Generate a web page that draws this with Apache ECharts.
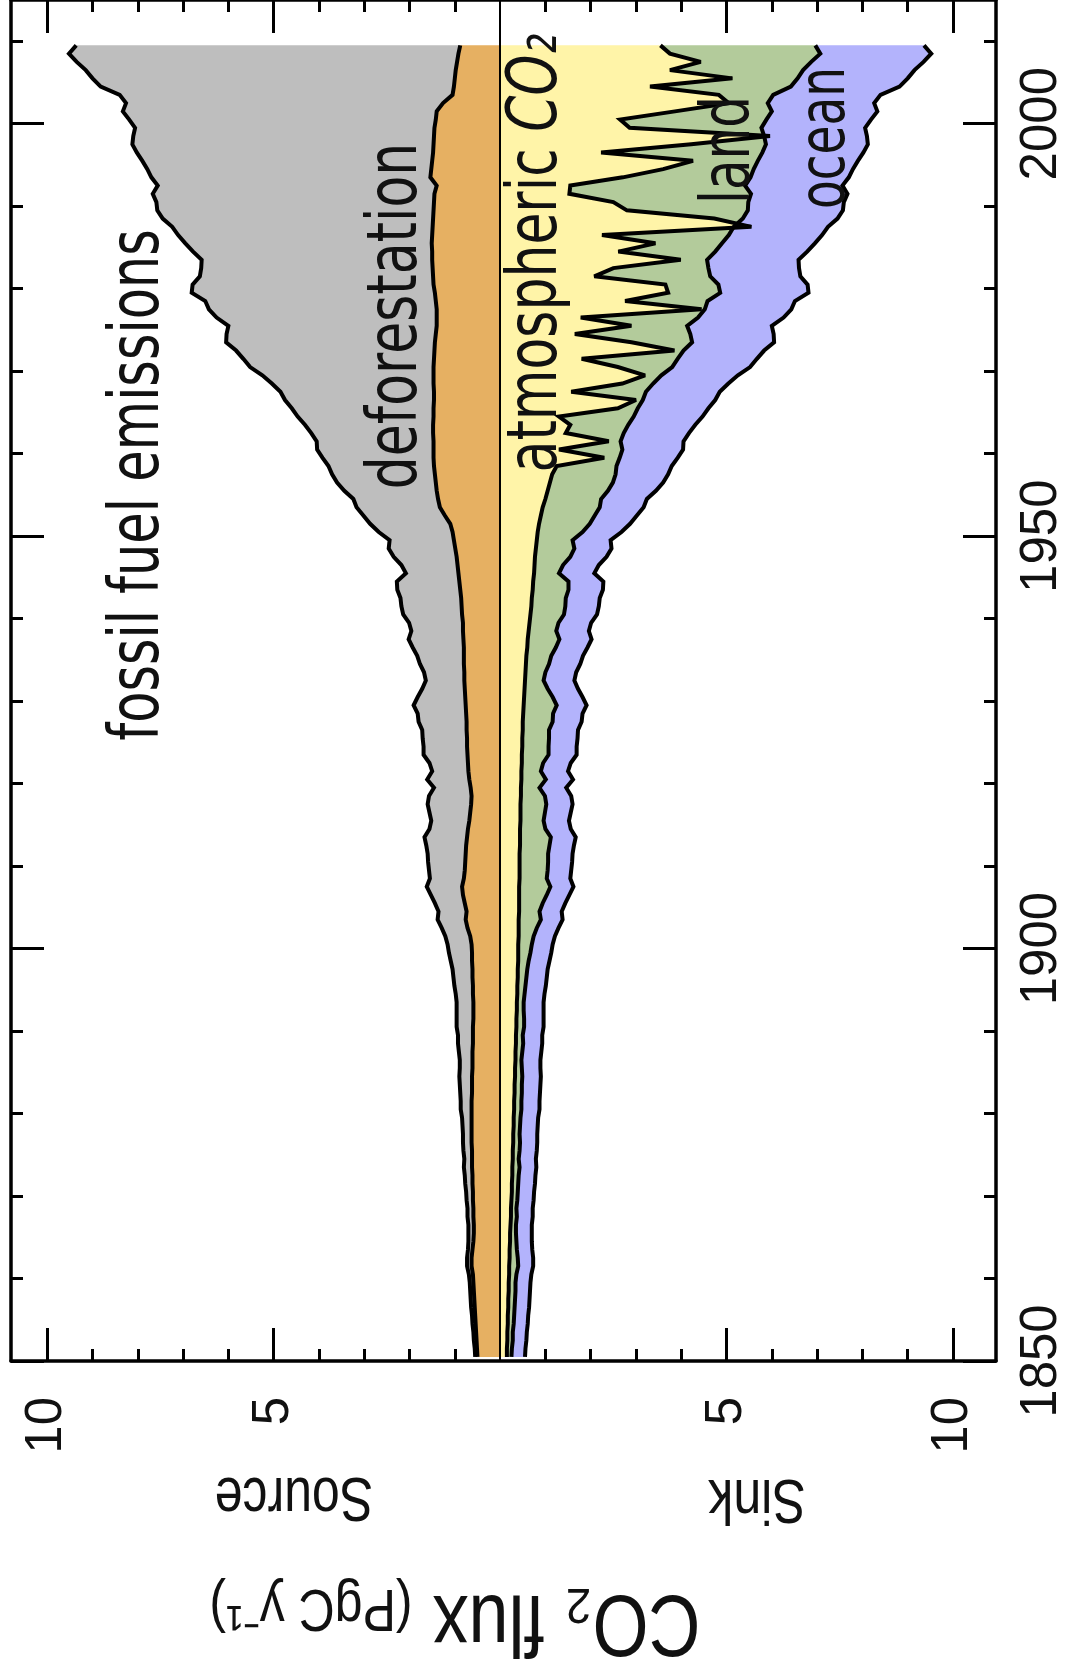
<!DOCTYPE html>
<html>
<head>
<meta charset="utf-8">
<script src="https://cdn.jsdelivr.net/npm/echarts@6/dist/echarts.min.js"></script>
<style>
html,body{margin:0;padding:0;background:#ffffff;}
#chart{width:1070px;height:1670px;}
</style>
</head>
<body>
<div id="chart"></div>
<script>
// ---------------- data (PgC per year), one value per year 1850..2009 ----------------
const firstYear = 1850;
const axisEndYear = 2015;

const fossil = [
 0.05,0.05,0.06,0.06,0.07,0.07,0.08,0.08,0.08,0.08,
 0.09,0.10,0.10,0.10,0.11,0.12,0.12,0.13,0.13,0.14,
 0.15,0.16,0.17,0.18,0.17,0.19,0.19,0.19,0.20,0.21,
 0.24,0.24,0.26,0.27,0.28,0.28,0.28,0.30,0.33,0.33,
 0.36,0.37,0.37,0.37,0.38,0.41,0.42,0.44,0.47,0.51,
 0.53,0.55,0.57,0.62,0.62,0.66,0.71,0.78,0.75,0.79,
 0.82,0.84,0.88,0.94,0.85,0.84,0.90,0.96,0.94,0.81,
 0.93,0.80,0.85,0.97,0.96,0.98,0.98,1.06,1.07,1.15,
 1.05,0.94,0.85,0.89,0.97,1.03,1.13,1.21,1.14,1.19,
 1.30,1.33,1.34,1.39,1.38,1.16,1.24,1.39,1.47,1.42,
 1.63,1.77,1.80,1.84,1.87,2.04,2.18,2.27,2.33,2.45,
 2.57,2.58,2.69,2.83,3.00,3.13,3.29,3.39,3.57,3.78,
 4.05,4.21,4.38,4.61,4.62,4.60,4.86,5.03,5.09,5.37,
 5.32,5.15,5.11,5.09,5.28,5.44,5.61,5.75,5.97,6.10,
 6.13,6.22,6.16,6.16,6.27,6.40,6.54,6.65,6.64,6.61,
 6.77,6.93,7.00,7.35,7.80,8.00,8.17,8.40,8.60,8.48
];

const deforestation = [
 0.50,0.51,0.52,0.53,0.54,0.55,0.56,0.57,0.58,0.59,
 0.60,0.63,0.63,0.61,0.59,0.58,0.58,0.59,0.59,0.60,
 0.60,0.61,0.61,0.62,0.62,0.62,0.63,0.63,0.63,0.63,
 0.63,0.63,0.62,0.62,0.62,0.61,0.61,0.61,0.60,0.60,
 0.60,0.59,0.59,0.59,0.60,0.60,0.61,0.61,0.62,0.62,
 0.63,0.66,0.72,0.76,0.74,0.78,0.82,0.84,0.80,0.78,
 0.77,0.76,0.75,0.73,0.71,0.68,0.66,0.64,0.63,0.65,
 0.68,0.70,0.71,0.72,0.73,0.73,0.74,0.74,0.75,0.76,
 0.77,0.78,0.79,0.79,0.80,0.80,0.80,0.81,0.82,0.82,
 0.84,0.85,0.86,0.88,0.90,0.92,0.94,0.96,0.99,1.02,
 1.05,1.10,1.22,1.33,1.37,1.40,1.42,1.44,1.46,1.47,
 1.47,1.47,1.48,1.48,1.47,1.47,1.46,1.46,1.47,1.47,
 1.47,1.46,1.45,1.44,1.42,1.40,1.40,1.40,1.42,1.44,
 1.47,1.48,1.49,1.50,1.50,1.51,1.50,1.49,1.48,1.47,
 1.46,1.45,1.40,1.54,1.52,1.50,1.48,1.47,1.46,1.45,
 1.42,1.40,1.26,1.05,1.02,1.00,0.98,0.95,0.92,0.88
];

const atmosphere = [
 0.15,0.15,0.16,0.16,0.17,0.17,0.18,0.18,0.19,0.19,
 0.20,0.20,0.21,0.21,0.22,0.22,0.23,0.24,0.24,0.25,
 0.26,0.26,0.27,0.27,0.28,0.28,0.29,0.29,0.30,0.30,
 0.31,0.31,0.32,0.32,0.33,0.33,0.34,0.34,0.35,0.35,
 0.36,0.36,0.37,0.37,0.38,0.38,0.39,0.39,0.40,0.40,
 0.40,0.41,0.41,0.41,0.42,0.42,0.42,0.42,0.43,0.43,
 0.43,0.43,0.44,0.44,0.44,0.45,0.45,0.45,0.46,0.46,
 0.47,0.47,0.48,0.48,0.49,0.49,0.50,0.50,0.51,0.52,
 0.53,0.54,0.55,0.56,0.57,0.58,0.60,0.61,0.63,0.65,
 0.67,0.69,0.70,0.72,0.73,0.75,0.76,0.77,0.79,0.81,
 0.83,0.86,0.90,0.94,1.00,1.05,1.10,1.15,1.25,2.30,
 1.30,2.40,1.45,1.55,1.30,2.60,3.00,1.57,2.70,3.20,
 2.60,1.80,3.85,2.90,1.65,2.90,1.78,4.45,2.76,3.71,
 3.65,2.08,2.50,3.99,2.61,3.43,2.25,5.55,4.73,2.80,
 2.50,1.53,1.55,2.71,3.60,4.26,2.23,4.22,5.96,2.86,
 2.65,3.86,5.05,4.83,3.31,5.13,3.75,4.43,3.75,3.54
];

const land = [
 0.10,0.11,0.12,0.12,0.13,0.14,0.14,0.15,0.15,0.15,
 0.16,0.20,0.18,0.16,0.14,0.13,0.12,0.13,0.12,0.13,
 0.13,0.14,0.14,0.16,0.13,0.15,0.15,0.14,0.14,0.15,
 0.16,0.16,0.16,0.16,0.16,0.15,0.13,0.15,0.16,0.15,
 0.17,0.17,0.15,0.15,0.16,0.18,0.19,0.21,0.23,0.27,
 0.30,0.33,0.40,0.49,0.45,0.52,0.61,0.69,0.60,0.62,
 0.63,0.63,0.65,0.68,0.56,0.51,0.54,0.57,0.53,0.41,
 0.54,0.43,0.47,0.59,0.58,0.59,0.58,0.66,0.66,0.73,
 0.63,0.51,0.41,0.44,0.51,0.55,0.63,0.70,0.61,0.64,
 0.74,0.75,0.75,0.79,0.78,0.55,0.63,0.78,0.85,0.79,
 0.99,1.12,1.19,1.26,1.23,1.33,1.39,1.40,1.32,0.34,
 1.40,0.26,1.28,1.28,1.65,0.44,0.15,1.65,0.68,0.36,
 1.20,2.12,0.20,1.34,2.55,1.23,2.59,0.07,1.82,1.15,
 1.17,2.56,2.10,0.58,2.14,1.47,2.80,-0.39,0.63,2.67,
 2.98,4.01,3.86,2.82,2.00,1.43,3.56,1.65,-0.13,2.91,
 3.23,2.14,0.86,1.20,3.11,1.44,2.94,2.44,3.32,3.42
];

const ocean = [
 0.30,0.30,0.30,0.31,0.31,0.31,0.32,0.32,0.32,0.33,
 0.33,0.33,0.34,0.34,0.34,0.35,0.35,0.35,0.36,0.36,
 0.36,0.37,0.37,0.37,0.38,0.38,0.38,0.39,0.39,0.39,
 0.40,0.40,0.40,0.41,0.41,0.41,0.42,0.42,0.42,0.43,
 0.43,0.43,0.44,0.44,0.44,0.45,0.45,0.45,0.46,0.46,
 0.46,0.47,0.48,0.48,0.49,0.50,0.50,0.51,0.52,0.52,
 0.53,0.54,0.54,0.55,0.56,0.56,0.57,0.58,0.58,0.59,
 0.60,0.60,0.61,0.62,0.62,0.63,0.64,0.64,0.65,0.66,
 0.66,0.67,0.68,0.68,0.69,0.70,0.70,0.71,0.72,0.72,
 0.73,0.74,0.75,0.76,0.77,0.78,0.79,0.80,0.82,0.84,
 0.86,0.89,0.93,0.97,1.01,1.06,1.11,1.16,1.22,1.28,
 1.34,1.39,1.44,1.48,1.52,1.56,1.60,1.63,1.66,1.69,
 1.72,1.75,1.78,1.81,1.84,1.87,1.89,1.91,1.93,1.95,
 1.97,1.99,2.00,2.02,2.03,2.05,2.06,2.08,2.09,2.10,
 2.11,2.13,2.15,2.17,2.19,2.21,2.23,2.25,2.27,2.29,
 2.31,2.33,2.35,2.37,2.40,2.43,2.46,2.48,2.45,2.40
];

// tick positions / labels
const majorYears = [1850, 1900, 1950, 2000];
const minorYears = [1860, 1870, 1880, 1890, 1910, 1920, 1930, 1940, 1960, 1970, 1980, 1990, 2010];
const majorFlux = [-10, -5, 5, 10];
const minorFlux = [-9, -8, -7, -6, -4, -3, -2, -1, 1, 2, 3, 4, 6, 7, 8, 9];

// year categories for the (hidden) band axis the series sit on
const years = [];
for (let y = firstYear; y < axisEndYear; y++) years.push(String(y));

const colors = {
  fossil: '#bebebe',
  deforestation: '#e6b062',
  atmosphere: '#fff4a8',
  land: '#b3cb9b',
  ocean: '#b3b3fc'
};

const neg = arr => arr.map(v => -v);

const chart = echarts.init(document.getElementById('chart'), null, {renderer: 'canvas'});

const FRAME = 3.5;
const tickFont = {fontFamily: '"Liberation Sans", Arial, sans-serif', fontSize: 51, color: '#111'};

function xAxisDef(position, ticks, len, withLine, withLabel) {
  return {
    type: 'value', position: position, min: -10.8, max: 10.95,
    axisLine: {show: withLine, onZero: false, lineStyle: {color: '#000', width: FRAME}},
    axisTick: {show: true, inside: true, length: len, customValues: ticks, lineStyle: {color: '#000', width: 3}},
    axisLabel: withLabel ? Object.assign({show: true, customValues: majorFlux, rotate: 90, margin: 36,
      formatter: v => String(Math.abs(v))}, tickFont) : {show: false},
    splitLine: {show: false}
  };
}
function yAxisDef(position, ticks, len, withLine, withLabel) {
  return {
    type: 'value', position: position, min: firstYear, max: axisEndYear,
    axisLine: {show: withLine, onZero: false, lineStyle: {color: '#000', width: FRAME}},
    axisTick: {show: true, inside: true, length: len, customValues: ticks, lineStyle: {color: '#000', width: 3}},
    axisLabel: withLabel ? Object.assign({show: true, customValues: majorYears, rotate: 90, margin: 20,
      formatter: v => String(v)}, tickFont) : {show: false},
    splitLine: {show: false}
  };
}

const fillBase = {type: 'line', symbol: 'none', showSymbol: false, smooth: false, silent: true,
  xAxisIndex: 0, yAxisIndex: 0, lineStyle: {width: 0, opacity: 0}, z: 2};
const lineBase = {type: 'line', symbol: 'none', showSymbol: false, smooth: false, silent: true,
  xAxisIndex: 0, yAxisIndex: 0, lineStyle: {color: '#000', width: 4, join: 'miter', miterLimit: 3}, z: 3};

const option = {
  animation: false,
  backgroundColor: '#ffffff',
  grid: {left: 11, right: 74, top: 0, bottom: 309, containLabel: false, outerBoundsMode: 'none'},
  xAxis: [
    xAxisDef('bottom', majorFlux, 33, true, true),
    xAxisDef('bottom', minorFlux, 12, false, false),
    xAxisDef('top', majorFlux, 33, true, false),
    xAxisDef('top', minorFlux, 12, false, false)
  ],
  yAxis: [
    {type: 'category', data: years, boundaryGap: true, show: false},
    yAxisDef('right', majorYears, 33, true, true),
    yAxisDef('right', minorYears, 12, false, false),
    yAxisDef('left', majorYears, 33, true, false),
    yAxisDef('left', minorYears, 12, false, false)
  ],
  series: [
    // filled layers
    Object.assign({}, fillBase, {name: 'deforestation', stack: 'sourceFill', data: neg(deforestation),
      areaStyle: {color: colors.deforestation, opacity: 1}}),
    Object.assign({}, fillBase, {name: 'fossil fuel emissions', stack: 'sourceFill', data: neg(fossil),
      areaStyle: {color: colors.fossil, opacity: 1}}),
    Object.assign({}, fillBase, {name: 'atmospheric CO2', stack: 'sinkFill', stackStrategy: 'all', data: atmosphere,
      areaStyle: {color: colors.atmosphere, opacity: 1}}),
    Object.assign({}, fillBase, {name: 'land', stack: 'sinkFill', stackStrategy: 'all', data: land,
      areaStyle: {color: colors.land, opacity: 1}}),
    Object.assign({}, fillBase, {name: 'ocean', stack: 'sinkFill', stackStrategy: 'all', data: ocean,
      areaStyle: {color: colors.ocean, opacity: 1}}),
    // black outlines on top
    Object.assign({}, lineBase, {name: 'deforestation edge', stack: 'sourceLine', data: neg(deforestation)}),
    Object.assign({}, lineBase, {name: 'fossil edge', stack: 'sourceLine', data: neg(fossil)}),
    Object.assign({}, lineBase, {name: 'atmosphere edge', stack: 'sinkLine', stackStrategy: 'all', data: atmosphere,
      markLine: {silent: true, symbol: ['none', 'none'], label: {show: false},
        lineStyle: {color: '#000', width: 2, type: 'solid'}, data: [{xAxis: 0}]}}),
    Object.assign({}, lineBase, {name: 'land edge', stack: 'sinkLine', stackStrategy: 'all', data: land}),
    Object.assign({}, lineBase, {name: 'ocean edge', stack: 'sinkLine', stackStrategy: 'all', data: ocean})
  ],
  graphic: [
    {type: 'text', x: 140, y: 485, rotation: Math.PI / 2, scaleY: 1.35, z: 10,
      style: {text: 'fossil fuel emissions', fontFamily: '"DejaVu Sans"', fontSize: 51, fill: '#111', align: 'center', verticalAlign: 'middle'}},
    {type: 'text', x: 398, y: 316, rotation: Math.PI / 2, scaleY: 1.35, z: 10,
      style: {text: 'deforestation', fontFamily: '"DejaVu Sans"', fontSize: 52, fill: '#111', align: 'center', verticalAlign: 'middle'}},
    {type: 'text', x: 538, y: 253, rotation: Math.PI / 2, scaleY: 1.35, z: 10,
      style: {text: '{n|atmospheric }{i|CO₂}', fill: '#111', align: 'center', verticalAlign: 'middle',
        rich: {n: {fontFamily: '"DejaVu Sans"', fontSize: 52}, i: {fontFamily: '"DejaVu Sans"', fontSize: 52, fontStyle: 'italic'}}}},
    {type: 'text', x: 731, y: 150, rotation: Math.PI / 2, scaleY: 1.35, z: 10,
      style: {text: 'land', fontFamily: '"DejaVu Sans"', fontSize: 50, fill: '#111', align: 'center', verticalAlign: 'middle'}},
    {type: 'text', x: 828, y: 138, rotation: Math.PI / 2, scaleY: 1.35, z: 10,
      style: {text: 'ocean', fontFamily: '"DejaVu Sans"', fontSize: 47, fill: '#111', align: 'center', verticalAlign: 'middle'}},
    {type: 'text', x: 294, y: 1495, rotation: Math.PI, scaleY: 1.25, z: 10,
      style: {text: 'Source', fontFamily: '"Liberation Sans", Arial, sans-serif', fontSize: 50, fill: '#111', align: 'center', verticalAlign: 'middle'}},
    {type: 'text', x: 757, y: 1497, rotation: Math.PI, scaleY: 1.25, z: 10,
      style: {text: 'Sink', fontFamily: '"Liberation Sans", Arial, sans-serif', fontSize: 50, fill: '#111', align: 'center', verticalAlign: 'middle'}},
    {type: 'text', x: 455, y: 1620, rotation: Math.PI, scaleY: 1.2, z: 10,
      style: {text: '{b|CO₂ flux }{m|(PgC y⁻¹)}', fill: '#111', align: 'center', verticalAlign: 'middle',
        rich: {b: {fontFamily: '"Liberation Sans", Arial, sans-serif', fontSize: 72, verticalAlign: 'bottom'},
               m: {fontFamily: '"Liberation Sans", Arial, sans-serif', fontSize: 50, verticalAlign: 'bottom'}}}}
  ]
};

chart.setOption(option);
</script>
</body>
</html>
